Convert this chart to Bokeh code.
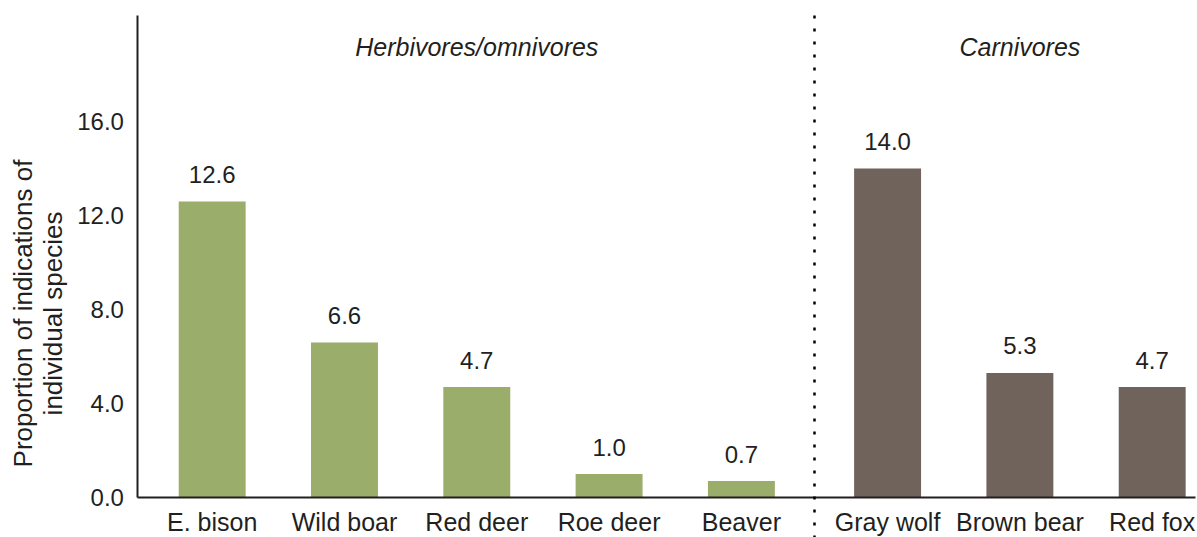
from bokeh.plotting import figure
from bokeh.models import (Range1d, FixedTicker, PrintfTickFormatter, CustomJSTickFormatter,
                          Label, Arrow, ColumnDataSource)
from bokeh.core.properties import value
from bokeh.embed import file_html
from bokeh.resources import INLINE

# ---- data ----
species = ["E. bison", "Wild boar", "Red deer", "Roe deer", "Beaver",
           "Gray wolf", "Brown bear", "Red fox"]
groups = ["Herbivores/omnivores"] * 5 + ["Carnivores"] * 3
proportions = [12.6, 6.6, 4.7, 1.0, 0.7, 14.0, 5.3, 4.7]
group_names = ["Herbivores/omnivores", "Carnivores"]
y_ticks = [0, 4, 8, 12, 16]
y_title = "Proportion of indications of\nindividual species"

# ---- style / layout ----
FONT = "Liberation Sans"
FS = "24px"
FS_X = "25px"
TXT = "#231f20"
colors = {"Herbivores/omnivores": "#9aad6a", "Carnivores": "#70635c"}
GAP = 0.105
X_START, X_END = -1.600, 7.4475          # whole canvas width
Y_START, Y_END = -1.702, 21.149          # whole canvas height
AX_X0, AX_X1 = -0.561, 7.432             # extent of the x axis line
AX_Y1 = 20.51                            # top of the y axis line

xpos = [i + (GAP if g == "Carnivores" else 0.0) for i, g in enumerate(groups)]
src = ColumnDataSource(dict(
    x=xpos, top=proportions, species=species,
    color=[colors[g] for g in groups],
    label=[f"{v:.1f}" for v in proportions],
))

p = figure(width=1197, height=537, output_backend="svg", toolbar_location=None,
           x_range=Range1d(X_START, X_END), y_range=Range1d(Y_START, Y_END),
           min_border_left=0, min_border_right=0, min_border_top=0, min_border_bottom=0)
p.outline_line_color = None
p.grid.grid_line_color = None
p.background_fill_color = "white"
p.border_fill_color = "white"

p.vbar(x="x", top="top", width=0.506, bottom=0, color="color", line_color=None, source=src)
p.text(x="x", y="top", text="label", source=src, text_align="center",
       text_baseline="alphabetic", y_offset=-27, text_font=value(FONT),
       text_font_size=FS, text_color=TXT)

# axes
for ax in (p.xaxis[0], p.yaxis[0]):
    ax.axis_line_color = TXT
    ax.axis_line_width = 2
    ax.major_tick_line_color = None
    ax.minor_tick_line_color = None
    ax.major_tick_out = 0
    ax.major_tick_in = 0
    ax.major_label_text_font = FONT
    ax.major_label_text_font_size = FS
    ax.major_label_text_color = TXT

p.yaxis.fixed_location = AX_X0
p.yaxis.bounds = (0, AX_Y1)
p.yaxis.ticker = FixedTicker(ticks=y_ticks)
p.yaxis.formatter = PrintfTickFormatter(format="%.1f")
p.yaxis.major_label_standoff = 14

p.xaxis.fixed_location = 0
p.xaxis.bounds = (AX_X0, AX_X1)
p.xaxis.ticker = FixedTicker(ticks=xpos)
p.xaxis.formatter = CustomJSTickFormatter(args=dict(pos=xpos, names=species), code="""
    for (let i = 0; i < pos.length; i++) {
        if (Math.abs(pos[i] - tick) < 1e-6) return names[i];
    }
    return "";
""")
p.xaxis.major_label_text_font_size = FS_X
p.xaxis.major_label_standoff = 10

# y-axis title (two centred lines, rotated)
p.add_layout(Label(x=-1.317, y=7.83, text=y_title, angle=1.5707963,
                   text_align="center", text_baseline="middle",
                   text_font=FONT, text_font_size="26px", text_color=TXT,
                   text_line_height=1.0))

# group labels
for g in group_names:
    gx = [x for x, gg in zip(xpos, groups) if gg == g]
    p.add_layout(Label(x=sum(gx) / len(gx), y=19.17, text=g, text_align="center",
                       text_baseline="middle", text_font=FONT, text_font_size=FS_X,
                       text_font_style="italic", text_color=TXT))

# dotted separator between groups
last_h = max(x for x, g in zip(xpos, groups) if g == group_names[0])
first_c = min(x for x, g in zip(xpos, groups) if g == group_names[1])
sep = (last_h + first_c) / 2
p.add_layout(Arrow(end=None, x_start=sep, x_end=sep, y_start=AX_Y1, y_end=Y_START,
                   line_color="black", line_width=2.5, line_dash="3 10"))

open("out.html", "w").write(file_html(p, INLINE))
